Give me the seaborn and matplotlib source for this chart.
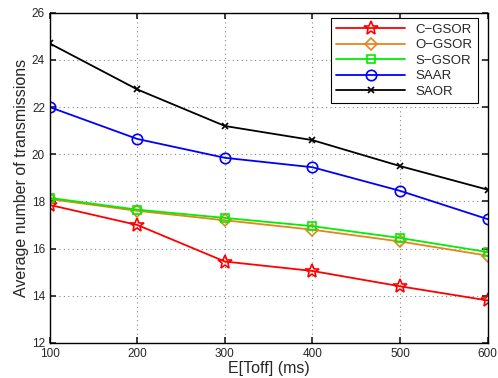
import matplotlib
matplotlib.use("Agg")

import matplotlib.pyplot as plt
import pandas as pd
import seaborn as sns

sns.set_theme(style="ticks")
plt.rcParams["font.family"] = ["Liberation Sans", "DejaVu Sans"]

toff = [100, 200, 300, 400, 500, 600]
c_gsor = [17.85, 17.0, 15.45, 15.05, 14.4, 13.8]
o_gsor = [18.1, 17.6, 17.2, 16.8, 16.3, 15.7]
s_gsor = [18.15, 17.65, 17.3, 16.95, 16.45, 15.85]
saar = [22.0, 20.65, 19.85, 19.45, 18.45, 17.25]
saor = [24.7, 22.75, 21.2, 20.6, 19.5, 18.5]

series = [
    ("C\u2212GSOR", c_gsor, "#ff0000", "*", 10, "none"),
    ("O\u2212GSOR", o_gsor, "#e6861a", "D", 6, "none"),
    ("S\u2212GSOR", s_gsor, "#00ee00", "s", 6, "none"),
    ("SAAR", saar, "#0000ff", "o", 7.5, "none"),
    ("SAOR", saor, "#000000", "x", 5, None),
]

fig = plt.figure(figsize=(4.98, 3.78), dpi=100)
ax = fig.add_axes([0.1, 0.093, 0.879, 0.873])

for name, vals, col, mk, ms, mfc in series:
    df = pd.DataFrame({"x": toff, "y": vals})
    kw = dict(markerfacecolor=mfc) if mfc else {}
    sns.lineplot(data=df, x="x", y="y", color=col, marker=mk, markersize=ms,
                 markeredgecolor=col, markeredgewidth=1.2, linewidth=1.3,
                 label=name, ax=ax, **kw)

ax.set_xlim(100, 600)
ax.set_ylim(12, 26)
ax.set_xticks(toff)
ax.set_yticks(range(12, 27, 2))
ax.grid(True, linestyle=(0, (1, 3)), color="#888888", linewidth=0.8)
ax.tick_params(direction="in", top=True, right=True, labelsize=8.5, length=4)
for s in ax.spines.values():
    s.set_color("black")
    s.set_linewidth(1)
ax.set_xlabel("E[Toff] (ms)", fontsize=11.5, labelpad=1)
ax.set_ylabel("Average number of transmissions", fontsize=11.5, labelpad=2)

leg = ax.legend(loc="upper right", fontsize=9.5, frameon=True, fancybox=False,
                borderaxespad=0.4, handlelength=5.2, labelspacing=0.25,
                borderpad=0.4, bbox_to_anchor=(0.99, 1.0))
leg.get_frame().set_edgecolor("black")
leg.get_frame().set_linewidth(0.8)
leg.get_frame().set_alpha(1)

fig.savefig("out.png", dpi=100)
